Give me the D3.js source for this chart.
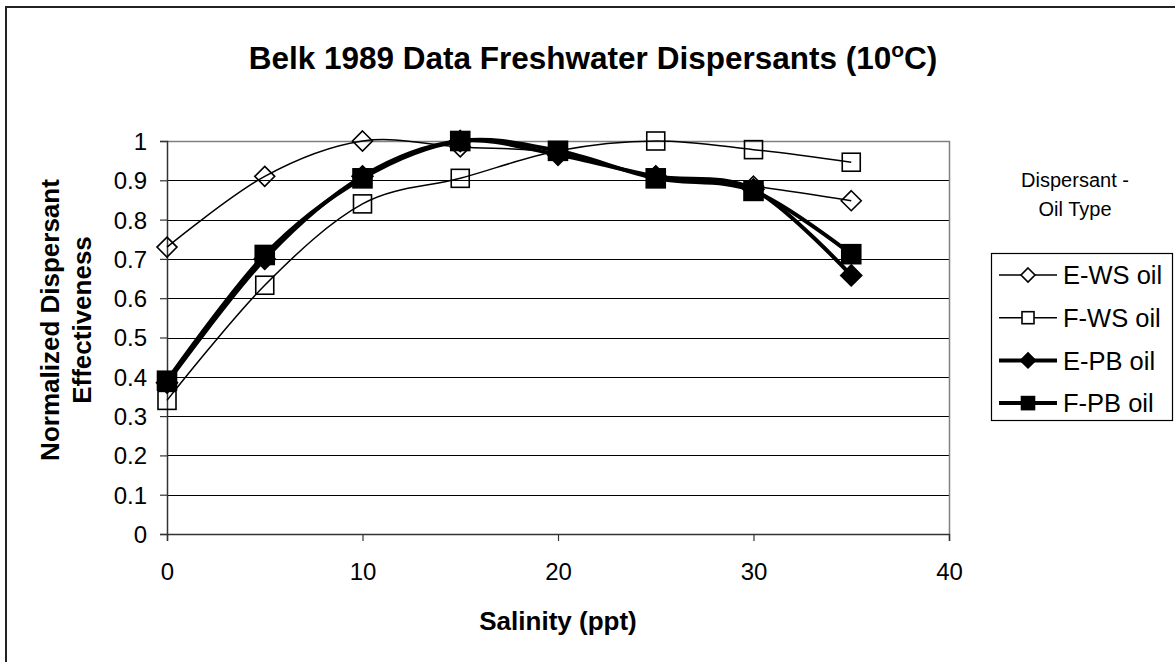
<!DOCTYPE html>
<html>
<head>
<meta charset="utf-8">
<script src="https://cdn.jsdelivr.net/npm/d3@7"></script>
<style>
  body { margin: 0; background: #fff; }
  text { font-family: "Liberation Sans", Arial, sans-serif; fill: #000; }
</style>
</head>
<body>
<script>
// Belk 1989 data - normalized dispersant effectiveness vs salinity

var salinity = [0, 5, 10, 15, 20, 25, 30, 35];
var ewsOil = [0.73, 0.91, 1.0, 0.985, 0.97, 0.91, 0.885, 0.848];
var fwsOil = [0.34, 0.633, 0.84, 0.905, 0.975, 1.0, 0.978, 0.946];
var epbOil = [0.385, 0.70, 0.91, 1.0, 0.965, 0.91, 0.877, 0.658];
var fpbOil = [0.39, 0.71, 0.905, 1.0, 0.975, 0.905, 0.873, 0.712];

var seriesNames = ["E-WS oil", "F-WS oil", "E-PB oil", "F-PB oil"];
var xTicks = [0, 10, 20, 30, 40];
var yTicks = [0, 0.1, 0.2, 0.3, 0.4, 0.5, 0.6, 0.7, 0.8, 0.9, 1];

var series = [
    { name: seriesNames[0], values: ewsOil, marker: "diamond", filled: false, width: 1.5 },
    { name: seriesNames[1], values: fwsOil, marker: "square",  filled: false, width: 1.5 },
    { name: seriesNames[2], values: epbOil, marker: "diamond", filled: true,  width: 4 },
    { name: seriesNames[3], values: fpbOil, marker: "square",  filled: true,  width: 4 }
];

var W = 1175, H = 662;
var plot = { left: 167, right: 949, top: 141, bottom: 534 };

var svg = d3.select("body").append("svg")
    .attr("width", W)
    .attr("height", H);

// chart border (runs off the right and bottom edge)
svg.append("rect")
    .attr("x", 6).attr("y", 7)
    .attr("width", 1200).attr("height", 700)
    .style("fill", "none")
    .style("stroke", "#222")
    .style("stroke-width", 2);

var x = d3.scaleLinear().domain([0, 40]).range([plot.left, plot.right]);
var y = d3.scaleLinear().domain([0, 1]).range([plot.bottom, plot.top]);

// gridlines
svg.append("g").selectAll("line")
    .data(yTicks.slice(1, -1))
    .enter().append("line")
    .attr("x1", plot.left).attr("x2", plot.right)
    .attr("y1", function(d) { return Math.round(y(d)) + 0.5; })
    .attr("y2", function(d) { return Math.round(y(d)) + 0.5; })
    .style("stroke", "#000")
    .style("stroke-width", 1);

// plot area frame (top + right in grey)
svg.append("path")
    .attr("d", "M" + plot.left + "," + (plot.top + 0.5) + "H" + (plot.right + 0.5) + "V" + plot.bottom)
    .style("fill", "none")
    .style("stroke", "#808080")
    .style("stroke-width", 1.5);

// axes
var xAxis = d3.axisBottom(x).tickValues(xTicks).tickSize(7).tickPadding(22);
var gx = svg.append("g")
    .attr("transform", "translate(0," + plot.bottom + ")")
    .call(xAxis);

var yAxis = d3.axisLeft(y).tickValues(yTicks).tickSize(7).tickPadding(13)
    .tickFormat(function(d) { return d3.format("~g")(d); });
var gy = svg.append("g")
    .attr("transform", "translate(" + plot.left + ",0)")
    .call(yAxis);

[gx, gy].forEach(function(g) {
    g.select(".domain").style("stroke", "#333").style("stroke-width", 1.5);
    g.selectAll(".tick line").style("stroke", "#333").style("stroke-width", 1.2);
    g.selectAll(".tick text")
        .style("font-size", "24px")
        .style("font-family", "'Liberation Sans', Arial, sans-serif")
        .attr("fill", "#000");
});
gy.selectAll(".tick text").attr("dy", "0.35em");

// markers
var drawMarker = function(g, kind, filled, cx, cy, size) {
    var h = size / 2;
    var el;
    if (kind === "diamond") {
        el = g.append("path")
            .attr("d", "M" + cx + "," + (cy - h - 1) + "L" + (cx + h + 1) + "," + cy +
                       "L" + cx + "," + (cy + h + 1) + "L" + (cx - h - 1) + "," + cy + "Z");
    } else {
        el = g.append("rect")
            .attr("x", cx - h).attr("y", cy - h)
            .attr("width", size).attr("height", size);
    }
    el.style("fill", filled ? "#000" : "none")
      .style("stroke", "#000")
      .style("stroke-width", 1.6);
    return el;
};

var line = d3.line()
    .x(function(d) { return x(d[0]); })
    .y(function(d) { return y(d[1]); })
    .curve(d3.curveCardinal.tension(0));

series.forEach(function(s) {
    var pts = salinity.map(function(v, i) { return [v, s.values[i]]; });
    var g = svg.append("g");
    g.append("path")
        .attr("d", line(pts))
        .style("fill", "none")
        .style("stroke", "#000")
        .style("stroke-width", s.width)
        .style("stroke-linejoin", "round");
    pts.forEach(function(p) {
        drawMarker(g, s.marker, s.filled, x(p[0]), y(p[1]), s.filled ? 19 : 18);
    });
});

// title
var title = svg.append("text")
    .attr("x", 593).attr("y", 69)
    .attr("text-anchor", "middle")
    .style("font-size", "31.5px")
    .style("font-weight", "bold");
title.append("tspan").text("Belk 1989 Data Freshwater Dispersants (10");
title.append("tspan").attr("dy", "-12").style("font-size", "21px").text("o");
title.append("tspan").attr("dy", "12").text("C)");

// axis titles
svg.append("text")
    .attr("x", (plot.left + plot.right) / 2).attr("y", 630)
    .attr("text-anchor", "middle")
    .style("font-size", "26px")
    .style("font-weight", "bold")
    .text("Salinity (ppt)");

var yTitle = svg.append("text")
    .attr("transform", "translate(0,320) rotate(-90)")
    .attr("text-anchor", "middle")
    .style("font-size", "26px")
    .style("font-weight", "bold");
yTitle.append("tspan").attr("x", 0).attr("y", 59).text("Normalized Dispersant");
yTitle.append("tspan").attr("x", 0).attr("y", 91).text("Effectiveness");

// legend title
var lt = svg.append("text")
    .attr("text-anchor", "middle")
    .style("font-size", "20px");
lt.append("tspan").attr("x", 1075).attr("y", 187).text("Dispersant -");
lt.append("tspan").attr("x", 1075).attr("y", 216).text("Oil Type");

// legend
var legend = svg.append("g");
legend.append("rect")
    .attr("x", 991.5).attr("y", 253.5)
    .attr("width", 181).attr("height", 167)
    .style("fill", "#fff")
    .style("stroke", "#000")
    .style("stroke-width", 1.2);

series.forEach(function(s, i) {
    var cy = 275 + i * 42.7;
    var g = legend.append("g");
    g.append("line")
        .attr("x1", 999).attr("x2", 1057)
        .attr("y1", cy).attr("y2", cy)
        .style("stroke", "#000")
        .style("stroke-width", s.width);
    var m = drawMarker(g, s.marker, s.filled, 1028, cy, s.filled ? 13 : 12);
    if (!s.filled) m.style("fill", "#fff");
    g.append("text")
        .attr("x", 1063).attr("y", cy)
        .attr("dy", "0.36em")
        .style("font-size", "25.5px")
        .text(s.name);
});
</script>
</body>
</html>
